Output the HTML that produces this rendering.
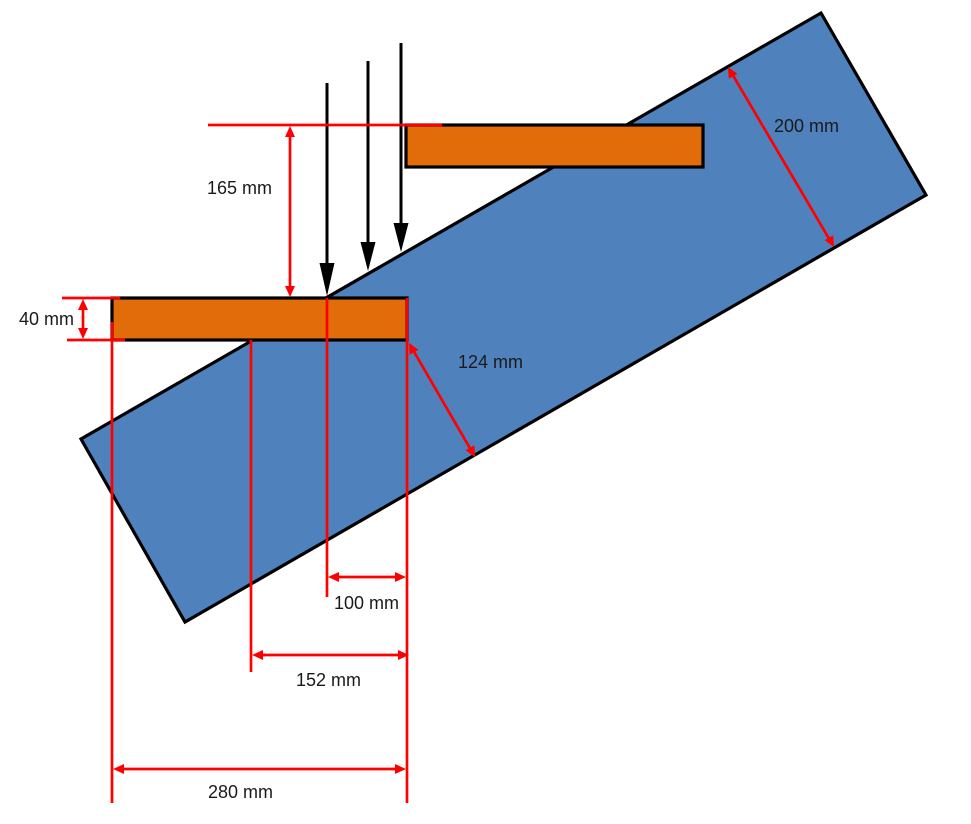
<!DOCTYPE html>
<html>
<head>
<meta charset="utf-8">
<style>
html,body{margin:0;padding:0;background:#fff;}
svg{display:block;}
text{font-family:"Liberation Sans",sans-serif;font-size:18px;fill:#1a1a1a;}
</style>
</head>
<body>
<svg width="971" height="824" viewBox="0 0 971 824" xmlns="http://www.w3.org/2000/svg">
  <!-- blue beam -->
  <polygon points="821,13 926,195 185,622 81,439" fill="#4f81bd" stroke="#000" stroke-width="3.2" stroke-linejoin="miter"/>

  <!-- orange plates -->
  <rect x="406" y="125" width="297" height="42" fill="#e36c0a" stroke="#000" stroke-width="3.2"/>
  <rect x="112" y="298" width="295" height="42" fill="#e36c0a" stroke="#000" stroke-width="3.2"/>

  <!-- black load arrows -->
  <g stroke="#000" stroke-width="3" fill="none">
    <line x1="327" y1="83" x2="327" y2="266"/>
    <line x1="368" y1="61" x2="368" y2="244"/>
    <line x1="401" y1="43" x2="401" y2="225"/>
  </g>
  <g fill="#000">
    <polygon points="319.5,263 334.5,263 327,296"/>
    <polygon points="360.5,242 375.5,242 368,271"/>
    <polygon points="393.5,223 408.5,223 401,252"/>
  </g>

  <!-- red dimension lines -->
  <g stroke="#ff0000" stroke-width="2.7" fill="none">
    <!-- 165 -->
    <line x1="208" y1="125" x2="442" y2="125"/>
    <line x1="290" y1="133" x2="290" y2="290"/>
    <!-- 40 -->
    <line x1="62" y1="298" x2="120" y2="298"/>
    <line x1="67" y1="340" x2="125" y2="340"/>
    <line x1="83" y1="306" x2="83" y2="332"/>
    <!-- verticals -->
    <line x1="112" y1="322" x2="112" y2="803"/>
    <line x1="251" y1="340" x2="251" y2="672"/>
    <line x1="327" y1="298" x2="327" y2="597"/>
    <line x1="407" y1="298" x2="407" y2="803"/>
    <!-- horizontals -->
    <line x1="335" y1="577" x2="399" y2="577"/>
    <line x1="259" y1="655" x2="401" y2="655"/>
    <line x1="120" y1="769" x2="399" y2="769"/>
    <!-- 124 -->
    <line x1="414" y1="351.7" x2="470" y2="448.3"/>
    <!-- 200 -->
    <line x1="733.1" y1="75.6" x2="828.9" y2="238.4"/>
  </g>
  <g fill="#ff0000">
    <!-- 165 heads -->
    <polygon points="290,126 285,137 295,137"/>
    <polygon points="290,297 285,286 295,286"/>
    <!-- 40 heads -->
    <polygon points="83,299 78,310 88,310"/>
    <polygon points="83,339 78,328 88,328"/>
    <!-- 100 -->
    <polygon points="328,577 339,572 339,582"/>
    <polygon points="406,577 395,572 395,582"/>
    <!-- 152 -->
    <polygon points="252,655 263,650 263,660"/>
    <polygon points="409,655 398,650 398,660"/>
    <!-- 280 -->
    <polygon points="113,769 124,764 124,774"/>
    <polygon points="406,769 395,764 395,774"/>
    <!-- 124 -->
    <polygon points="409,343 409.6,354.8 418.4,349.8"/>
    <polygon points="475,457 465.6,450.2 474.4,445.2"/>
    <!-- 200 -->
    <polygon points="728,67 728.8,78.8 737.4,73.8"/>
    <polygon points="834,247 824.6,240.2 833.2,235.2"/>
  </g>

  <!-- labels -->
  <text x="207" y="194">165 mm</text>
  <text x="19" y="325">40 mm</text>
  <text x="458" y="368">124 mm</text>
  <text x="774" y="132">200 mm</text>
  <text x="334" y="609">100 mm</text>
  <text x="296" y="686">152 mm</text>
  <text x="208" y="798">280 mm</text>
</svg>
</body>
</html>
